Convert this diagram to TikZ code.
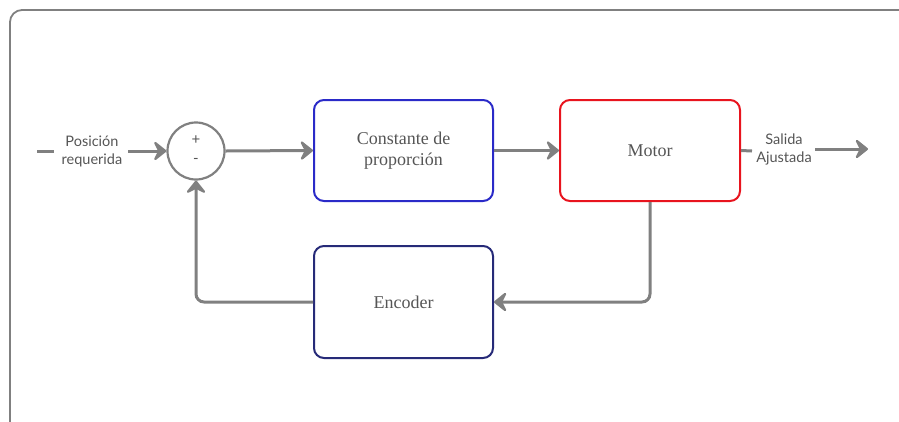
\documentclass[tikz,border=0pt]{standalone}
\usepackage{fontspec}
\setmainfont{Liberation Serif}
\newfontfamily\labelfont{Lato}
\usetikzlibrary{arrows.meta}
\definecolor{wire}{HTML}{808080}
\definecolor{txt}{HTML}{555555}
\definecolor{blockblue}{HTML}{2A2AC8}
\definecolor{blockred}{HTML}{E8141E}
\definecolor{blocknavy}{HTML}{262A78}
\tikzset{
  block/.style={draw, line width=2pt, rounded corners=10pt, minimum width=179pt,
    text=txt, font=\fontsize{18}{21}\selectfont, align=center, inner sep=0pt},
  wirearrow/.style={draw=wire, line width=3pt,
    -{Stealth[length=15pt, width=24pt, inset=6pt, round]}},
  plainwire/.style={draw=wire, line width=3pt},
  sidelabel/.style={text=txt, font=\labelfont\fontsize{14.5}{18}\selectfont, align=center, inner sep=0pt},
}
\begin{document}
\begin{tikzpicture}[x=1pt, y=-1pt]
  \useasboundingbox (0,0) rectangle (899,421);
  \clip (0,0) rectangle (899,421);
  % outer frame
  \draw[wire, line width=1.8pt, rounded corners=12pt] (10,10) rectangle (940,450);

  % summing junction
  \node[draw=wire, line width=2.2pt, circle, minimum size=57pt, inner sep=0pt] (sum) at (196,151) {};
  \node[text=txt, font=\labelfont\fontsize{15}{18}\selectfont] (plus) at (196,140) {+};
  \node[text=txt, font=\labelfont\fontsize{15}{18}\selectfont] (minus) at (196,161) {-};

  % blocks
  \node[block, draw=blockblue, minimum height=101pt] (kp) at (403.5,150.5) {Constante de\\proporción};
  \node[block, draw=blockred, minimum width=180pt, minimum height=101pt] (motor) at (650,150.5) {Motor};
  \node[block, draw=blocknavy, minimum height=112pt] (enc) at (403.5,302) {Encoder};

  % input
  \coordinate (inA) at (37,151);
  \coordinate (inB) at (54,151);
  \node[sidelabel] (inlbl) at (92,151) {Posición\\requerida};
  \coordinate (inC) at (128,151);
  \draw[plainwire] (inA) -- (inB);
  \draw[wirearrow] (inC) -- (sum.west);

  % forward path
  \draw[wirearrow] (sum.east) -- (kp.west);
  \draw[wirearrow] (kp.east) -- (motor.west);

  % output
  \coordinate (outA) at (752,151);
  \node[sidelabel] (outlbl) at (784,149) {Salida\\Ajustada};
  \coordinate (outB) at (815,149);
  \coordinate (outC) at (868,149);
  \draw[plainwire] (motor.east) -- (outA);
  \draw[wirearrow] (outB) -- (outC);

  % feedback path
  \draw[wirearrow, rounded corners=8pt] (motor.south) |- (enc.east);
  \draw[wirearrow, rounded corners=8pt] (enc.west) -| (sum.south);
\end{tikzpicture}
\end{document}
